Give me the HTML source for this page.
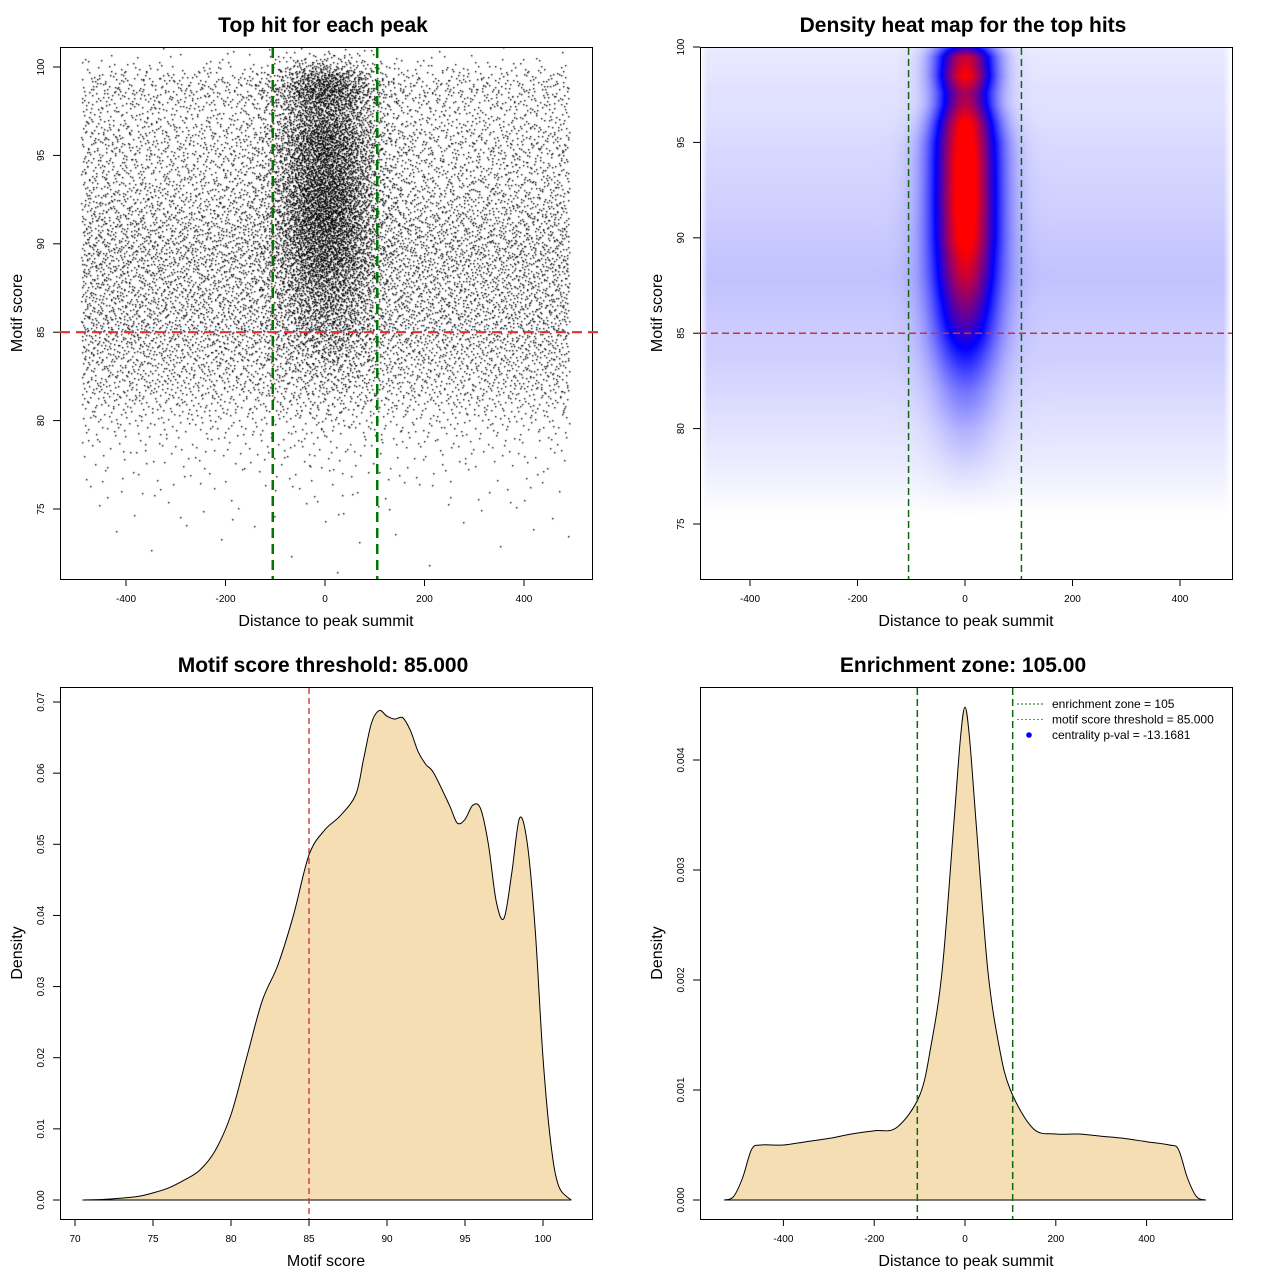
<!DOCTYPE html>
<html><head><meta charset="utf-8">
<style>
html,body{margin:0;padding:0;background:#fff;}
#wrap{position:relative;width:1280px;height:1280px;overflow:hidden;font-family:"Liberation Sans",sans-serif;}
canvas{position:absolute;}
svg{position:absolute;left:0;top:0;}
</style></head>
<body>
<div id="wrap">
<canvas id="heat" width="532" height="532" style="left:700px;top:47px"></canvas>
<canvas id="scat" width="532" height="532" style="left:60px;top:47px"></canvas>
<svg id="svg" width="1280" height="1280"></svg>
</div>
<script>
// ---- data ----
const scoreX=[70.5,72,74,75,76,77,78,79,80,81,82,83,84,85,86,87,88,88.5,89,89.5,90,90.5,91,91.5,92,92.5,93,94,94.5,95,95.5,96,96.5,97,97.5,98,98.5,99,99.5,100,100.5,101,101.8];
const scoreD=[0,0.0001,0.0005,0.001,0.0017,0.0028,0.0042,0.007,0.012,0.02,0.028,0.033,0.04,0.0485,0.052,0.054,0.057,0.062,0.067,0.0688,0.068,0.0676,0.0678,0.066,0.063,0.0612,0.060,0.0555,0.053,0.0535,0.0555,0.055,0.050,0.042,0.0396,0.046,0.0537,0.050,0.038,0.020,0.008,0.002,0];
const distX=[-530,-510,-490,-470,-450,-400,-350,-300,-250,-200,-150,-100,-75,-50,-25,-10,0,10,25,50,75,100,150,200,250,300,350,400,450,470,490,510,530];
const distD=[0,0.00003,0.0002,0.00046,0.0005,0.0005,0.00053,0.00056,0.0006,0.00063,0.00066,0.00095,0.0014,0.0021,0.0034,0.0042,0.00448,0.0042,0.0034,0.0021,0.0014,0.001,0.00065,0.0006,0.0006,0.00058,0.00056,0.00053,0.0005,0.00046,0.0002,0.00003,0];
const heatS=[75.5,76.5,78,80,82,83,84,85,86,88,90,92,94,96,97,97.6,98.5,99.5,100.3,101];
const heatBg=[0,0.015,0.035,0.055,0.075,0.085,0.095,0.1,0.105,0.12,0.105,0.09,0.08,0.065,0.06,0.06,0.05,0.045,0.03,0];
const heatC=[0,0.01,0.04,0.1,0.2,0.28,0.38,0.5,0.6,0.78,0.94,1.0,1.0,0.96,0.8,0.76,0.95,0.85,0.35,0];
const xTicks1=[-400,-200,0,200,400], yTicks1=[75,80,85,90,95,100];
const yTicks2=[75,80,85,90,95,100];
const xTicks3=[70,75,80,85,90,95,100], yTicks3=[0,0.01,0.02,0.03,0.04,0.05,0.06,0.07];
const yTicks4=[0,0.001,0.002,0.003,0.004];
const zone=105, threshold=85;

// ---- scales ----
const sx1=d=>325+d*0.4975, sy1=s=>67+(100-s)*17.68;
const sx2=d=>965+d*0.5375, sy2=s=>47+(100-s)*19.08;
const sx3=s=>75+(s-70)*15.6, sy3=v=>1200-v*7114;
const sx4=d=>965+d*0.454, sy4=v=>1200-v*110000;

const NS='http://www.w3.org/2000/svg';
const svg=document.getElementById('svg');
function mk(tag,attrs,parent){const e=document.createElementNS(NS,tag);for(const k in attrs)e.setAttribute(k,attrs[k]);(parent||svg).appendChild(e);return e;}
function interp(xs,ys,x){if(x<=xs[0])return ys[0];for(let i=1;i<xs.length;i++){if(x<=xs[i]){const t=(x-xs[i-1])/(xs[i]-xs[i-1]);return ys[i-1]+t*(ys[i]-ys[i-1]);}}return ys[ys.length-1];}
function fmt(v,dp){return v.toFixed(dp);}
function smoothPath(pts){
  let d=`M${pts[0][0]},${pts[0][1]}`;
  for(let i=0;i<pts.length-1;i++){
    const p0=pts[Math.max(0,i-1)],p1=pts[i],p2=pts[i+1],p3=pts[Math.min(pts.length-1,i+2)];
    const c1x=p1[0]+(p2[0]-p0[0])/6,c1y=p1[1]+(p2[1]-p0[1])/6;
    const c2x=p2[0]-(p3[0]-p1[0])/6,c2y=p2[1]-(p3[1]-p1[1])/6;
    d+=` C${c1x},${c1y} ${c2x},${c2y} ${p2[0]},${p2[1]}`;
  }
  return d;
}

function frame(b,name){
  const r=mk('rect',{x:b[0]+0.5,y:b[1]+0.5,width:b[2]-b[0],height:b[3]-b[1],fill:'none',stroke:'#000','stroke-width':1});
  
  
}
function xaxis(b,ticks,sx,dp,name){
  const g=mk('g',{});
  
  
  ticks.forEach(t=>{const x=sx(t);
    mk('line',{x1:x,y1:b[3],x2:x,y2:b[3]+7,stroke:'#000'},g);
    const tx=mk('text',{x:x,y:b[3]+23,'font-size':10,'text-anchor':'middle'},g);tx.textContent=fmt(t,dp);
    
    });
}
function yaxis(b,ticks,sy,dp,name){
  const g=mk('g',{});
  
  
  ticks.forEach(t=>{const y=sy(t);
    mk('line',{x1:b[0]-7,y1:y,x2:b[0],y2:y,stroke:'#000'},g);
    const tx=mk('text',{x:b[0]-16,y:y,'font-size':10,'text-anchor':'middle',transform:`rotate(-90 ${b[0]-16} ${y})`},g);tx.textContent=fmt(t,dp);
    
    });
}
function labels(b,title,xt,yt,name){
  const cx=(b[0]+b[2])/2, cy=(b[1]+b[3])/2;
  const t=mk('text',{x:cx-3,y:b[1]-15,'font-size':21,'font-weight':'bold','text-anchor':'middle'});t.textContent=title;
  
  
  const x=mk('text',{x:cx,y:b[3]+47,'font-size':16,'text-anchor':'middle'});x.textContent=xt;
  
  
  const yx=b[0]-38;
  const y=mk('text',{x:yx,y:cy,'font-size':16,'text-anchor':'middle',transform:`rotate(-90 ${yx} ${cy})`});y.textContent=yt;
  
  
}
function vline(x,y1,y2,col,w,dash,name){const l=mk('line',{x1:x,y1:y1,x2:x,y2:y2,stroke:col,'stroke-width':w,'stroke-dasharray':dash});
  
  }
function hline(y,x1,x2,col,w,dash,name){const l=mk('line',{x1:x1,y1:y,x2:x2,y2:y,stroke:col,'stroke-width':w,'stroke-dasharray':dash});
  
  }

// ---- Panel 1: scatter ----
const B1=[60,47,592,579];
(function(){
  const grid=[],cdf=[];let acc=0;
  for(let s=70.5;s<=101.8;s+=0.02){acc+=interp(scoreX,scoreD,s);grid.push(s);cdf.push(acc);}
  const inv=u=>{u*=acc;let lo=0,hi=cdf.length-1;while(lo<hi){const m=(lo+hi)>>1;if(cdf[m]<u)lo=m+1;else hi=m;}return grid[lo];};
  const halton=(i,b)=>{let f=1,r=0;while(i>0){f/=b;r+=f*(i%b);i=Math.floor(i/b);}return r;};
  const normInv=p=>{const a=[-39.69683028665376,220.9460984245205,-275.9285104469687,138.357751867269,-30.66479806614716,2.506628277459239],bb=[-54.47609879822406,161.5858368580409,-155.6989798598866,66.80131188771972,-13.28068155288572],c=[-0.007784894002430293,-0.3223964580411365,-2.400758277161838,-2.549732539343734,4.374664141464968,2.938163982698783],d=[0.007784695709041462,0.3224671290700398,2.445134137142996,3.754408661907416];
    const pl=0.02425;let q,r;if(p<pl){q=Math.sqrt(-2*Math.log(p));return(((((c[0]*q+c[1])*q+c[2])*q+c[3])*q+c[4])*q+c[5])/((((d[0]*q+d[1])*q+d[2])*q+d[3])*q+1);}
    if(p>1-pl){q=Math.sqrt(-2*Math.log(1-p));return-(((((c[0]*q+c[1])*q+c[2])*q+c[3])*q+c[4])*q+c[5])/((((d[0]*q+d[1])*q+d[2])*q+d[3])*q+1);}
    q=p-0.5;r=q*q;return(((((a[0]*r+a[1])*r+a[2])*r+a[3])*r+a[4])*r+a[5])*q/(((((bb[0]*r+bb[1])*r+bb[2])*r+bb[3])*r+bb[4])*r+1);};
  const ctx=document.getElementById('scat').getContext('2d');
  ctx.fillStyle='#000';
  const N=17000;
  for(let i=1;i<=N;i++){
    const s=inv(halton(i,2)); const u2=halton(i,3), u3=halton(i,5);
    const cf=s<82?0.05:Math.min(0.5,0.05+(s-82)*0.04);
    let d;
    if(u3<cf){d=normInv(Math.min(0.999,Math.max(0.001,u2)))*55;}
    else d=-490+u2*980;
    if(d<-495||d>495)continue;
    const x=sx1(d)-60, y=sy1(s)-47;
    ctx.fillRect(Math.round(x),Math.round(y),1.4,1.4);
  }
})();
frame(B1,'scatter-panel');
xaxis(B1,xTicks1,sx1,0,'scatter');
yaxis(B1,yTicks1,sy1,0,'scatter');
labels(B1,'Top hit for each peak','Distance to peak summit','Motif score','scatter');
hline(sy1(threshold),60,600,'#dd3333',2.2,'10 6','score-threshold-line');
vline(sx1(-zone),48,579,'#007700',2.5,'10 6','zone-left-line');
vline(sx1(zone),48,579,'#007700',2.5,'10 6','zone-right-line');

// ---- Panel 2: heatmap ----
const B2=[700,47,1232,579];
(function(){
  const cv=document.getElementById('heat'),ctx=cv.getContext('2d');
  const img=ctx.createImageData(532,532);
  for(let py=0;py<532;py++){
    const s=100-py/19.08;
    const bg=interp(heatS,heatBg,s), c=interp(heatS,heatC,s);
    const sd=interp([90,95,97,101],[42,42,36,38],s);
    for(let px=0;px<532;px++){
      const d=(px+700-965)/0.5375;
      const edge=Math.max(0,Math.min(1,(495-Math.abs(d))/15));
      let v=bg*edge+c*Math.exp(-d*d/(2*sd*sd));
      v=Math.min(1,v);
      let r,g,b;
      if(v<0.5){const t=v/0.5;r=255*(1-t);g=255*(1-t);b=255;}
      else{const t=(v-0.5)/0.5;r=255*t;g=0;b=255*(1-t);}
      const k=(py*532+px)*4;img.data[k]=r;img.data[k+1]=g;img.data[k+2]=b;img.data[k+3]=255;
    }
  }
  ctx.putImageData(img,0,0);
})();
frame(B2,'heatmap-panel');
xaxis(B2,xTicks1,sx2,0,'heatmap');
yaxis(B2,yTicks2,sy2,0,'heatmap');
labels(B2,'Density heat map for the top hits','Distance to peak summit','Motif score','heatmap');
hline(sy2(threshold),700,1232,'#cc3333',1.5,'7 4','heatmap-threshold-line');
vline(sx2(-zone),48,579,'#116611',1.5,'7 4','heatmap-zone-left-line');
vline(sx2(zone),48,579,'#116611',1.5,'7 4','heatmap-zone-right-line');

// ---- Panel 3: score density ----
const B3=[60,687,592,1219];
(function(){
  const pts=scoreX.map((s,i)=>[sx3(s),sy3(scoreD[i])]);
  const dstr=smoothPath(pts)+' Z';
  const p=mk('path',{d:dstr,fill:'#F5DEB3',stroke:'#000','stroke-width':1,'stroke-linejoin':'round'});
  
  
})();
frame(B3,'score-density-panel');
xaxis(B3,xTicks3,sx3,0,'score-density');
yaxis(B3,yTicks3,sy3,2,'score-density');
labels(B3,'Motif score threshold: 85.000','Motif score','Density','score-density');
vline(sx3(threshold),688,1219,'#bb3333',1.3,'6 4','density-threshold-line');

// ---- Panel 4: distance density ----
const B4=[700,687,1232,1219];
(function(){
  const pts=distX.map((d,i)=>[sx4(d),sy4(distD[i])]);
  const dstr=smoothPath(pts)+' Z';
  const p=mk('path',{d:dstr,fill:'#F5DEB3',stroke:'#000','stroke-width':1,'stroke-linejoin':'round'});
  
  
})();
frame(B4,'distance-density-panel');
xaxis(B4,xTicks1,sx4,0,'distance-density');
yaxis(B4,yTicks4,sy4,3,'distance-density');
labels(B4,'Enrichment zone: 105.00','Distance to peak summit','Density','distance-density');
vline(sx4(-zone),688,1219,'#116611',1.5,'7 4','enrichment-zone-left-line');
vline(sx4(zone),688,1219,'#116611',1.5,'7 4','enrichment-zone-right-line');
(function(){
  const g=mk('g',{});
  
  
  const items=[['enrichment zone = 105','#116611','line'],['motif score threshold = 85.000','#ee5555','line'],['centrality p-val = -13.1681','#0000ff','dot']];
  items.forEach((it,i)=>{const y=704+i*15.5;
    if(it[2]==='line')mk('line',{x1:1017,y1:y,x2:1044,y2:y,stroke:it[1],'stroke-width':1,'stroke-dasharray':'2 2'},g);
    else mk('circle',{cx:1029,cy:y,r:2.8,fill:it[1]},g);
    const t=mk('text',{x:1052,y:y+4,'font-size':12},g);t.textContent=it[0];
    
    });
})();
</script>
</body></html>
